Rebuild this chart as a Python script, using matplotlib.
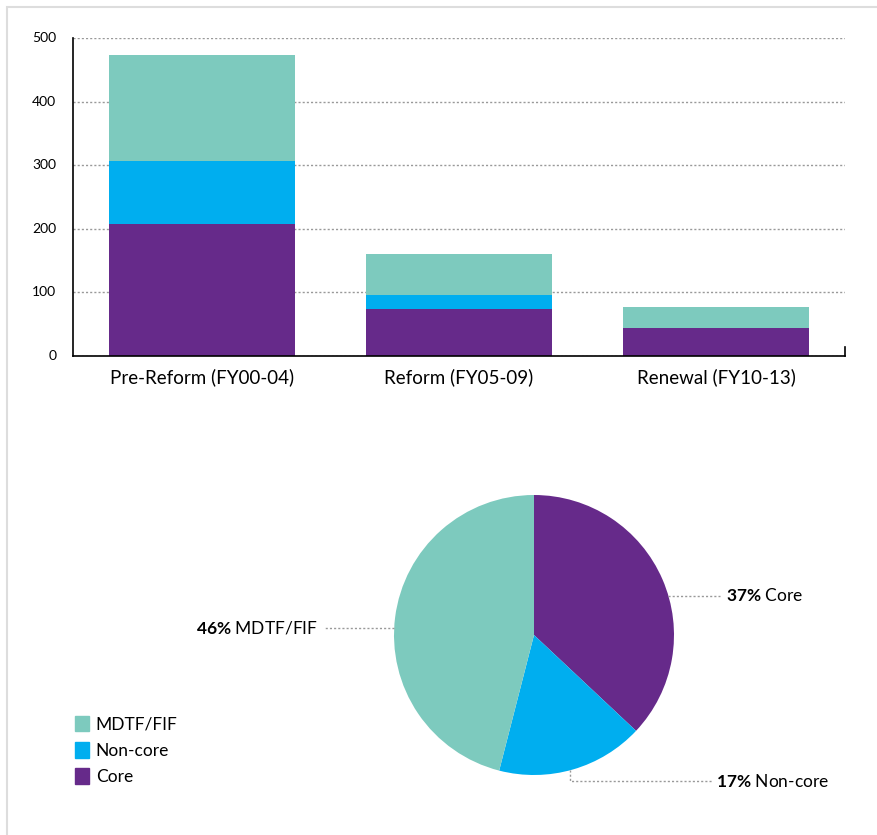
import numpy as np
import matplotlib.pyplot as plt
from matplotlib.patches import Patch, Rectangle

plt.rcParams['font.family'] = ['Lato', 'DejaVu Sans']
plt.rcParams['mathtext.fontset'] = 'custom'
plt.rcParams['mathtext.bf'] = 'Lato:bold'

periods = ['Pre-Reform (FY00-04)', 'Reform (FY05-09)', 'Renewal (FY10-13)']
core = [208, 74, 44]
noncore = [99, 22, 0]
mdtf = [166, 64, 33]

pie_labels = ['Core', 'Non-core', 'MDTF/FIF']
pie_shares = [37, 17, 46]

c_mdtf = '#7dcabe'
c_non = '#00aeef'
c_core = '#662a8a'

fig = plt.figure(figsize=(8.77, 8.35), dpi=100)

# light frame round the graphic
fig.add_artist(Rectangle((7/877, -0.1), 1.2, 1 - 7/835 + 0.1, transform=fig.transFigure,
                         fill=False, ec='#dddddd', lw=1.5))

# ---- stacked bars ----
ax = fig.add_axes([73/877, 1 - 356/835, 772/877, 318/835])
x = np.arange(len(periods))
w = 0.724
core_a, non_a, mdtf_a = np.array(core), np.array(noncore), np.array(mdtf)
ax.bar(x, core_a, w, color=c_core, zorder=2)
ax.bar(x, non_a, w, bottom=core_a, color=c_non, zorder=2)
ax.bar(x, mdtf_a, w, bottom=core_a + non_a, color=c_mdtf, zorder=2)
ax.set_xlim(-0.5, 2.5)
ax.set_ylim(0, 500)
ax.set_yticks(range(0, 501, 100))
ax.yaxis.grid(True, ls=(0, (1.5, 1.5)), color='#999999', lw=1)
ax.set_axisbelow(True)
ax.spines['top'].set_visible(False)
ax.spines['right'].set_bounds(0, 14)
for s in ['left', 'bottom', 'right']:
    ax.spines[s].set_linewidth(1.2)
ax.set_xticks(x)
ax.set_xticklabels(periods, fontsize=13.5)
ax.tick_params(axis='x', length=0, pad=9)
ax.tick_params(axis='y', length=0, pad=12, labelsize=10)
for lb in ax.get_yticklabels():
    lb.set_verticalalignment('center')

# ---- pie ----
pax = fig.add_axes([(534 - 140)/877, 1 - (635 + 140)/835, 280/877, 280/835])
pax.pie(pie_shares, colors=[c_core, c_non, c_mdtf], startangle=90, counterclock=False,
        radius=1, wedgeprops=dict(lw=0))
pax.set_xlim(-1, 1)
pax.set_ylim(-1, 1)
pax.set_aspect('equal')
pax.axis('off')

lead = dict(color='#999999', lw=1, ls=(0, (1.5, 1.5)), clip_on=False)
# Core
yc = 0.28
pax.plot([np.sqrt(1 - yc**2), 1.33], [yc, yc], **lead)
pax.text(1.37, yc, f'$\\bf{{{pie_shares[0]}\\%}}$ ' + pie_labels[0], va='center', ha='left', fontsize=12.5)
# MDTF
ym = 0.05
pax.plot([-1.0, -1.49], [ym, ym], **lead)
pax.text(-1.54, ym, f'$\\bf{{{pie_shares[2]}\\%}}$ ' + pie_labels[2], va='center', ha='right', fontsize=12.5)
# Non-core
xn = 0.257
yn = -1.043
pax.plot([xn, xn, 1.27], [-np.sqrt(1 - xn**2), yn, yn], **lead)
pax.text(1.30, yn, f'$\\bf{{{pie_shares[1]}\\%}}$ ' + pie_labels[1], va='center', ha='left', fontsize=12.5)

handles = [Patch(color=c_mdtf, label='MDTF/FIF'), Patch(color=c_non, label='Non-core'),
           Patch(color=c_core, label='Core')]
fig.legend(handles=handles, loc='upper left', bbox_to_anchor=(68/877, 1 - 709/835), frameon=False,
           fontsize=12.5, handlelength=0.8, handleheight=1.0, handletextpad=0.4, labelspacing=0.55,
           borderaxespad=0)

fig.savefig('out.png', dpi=100)
